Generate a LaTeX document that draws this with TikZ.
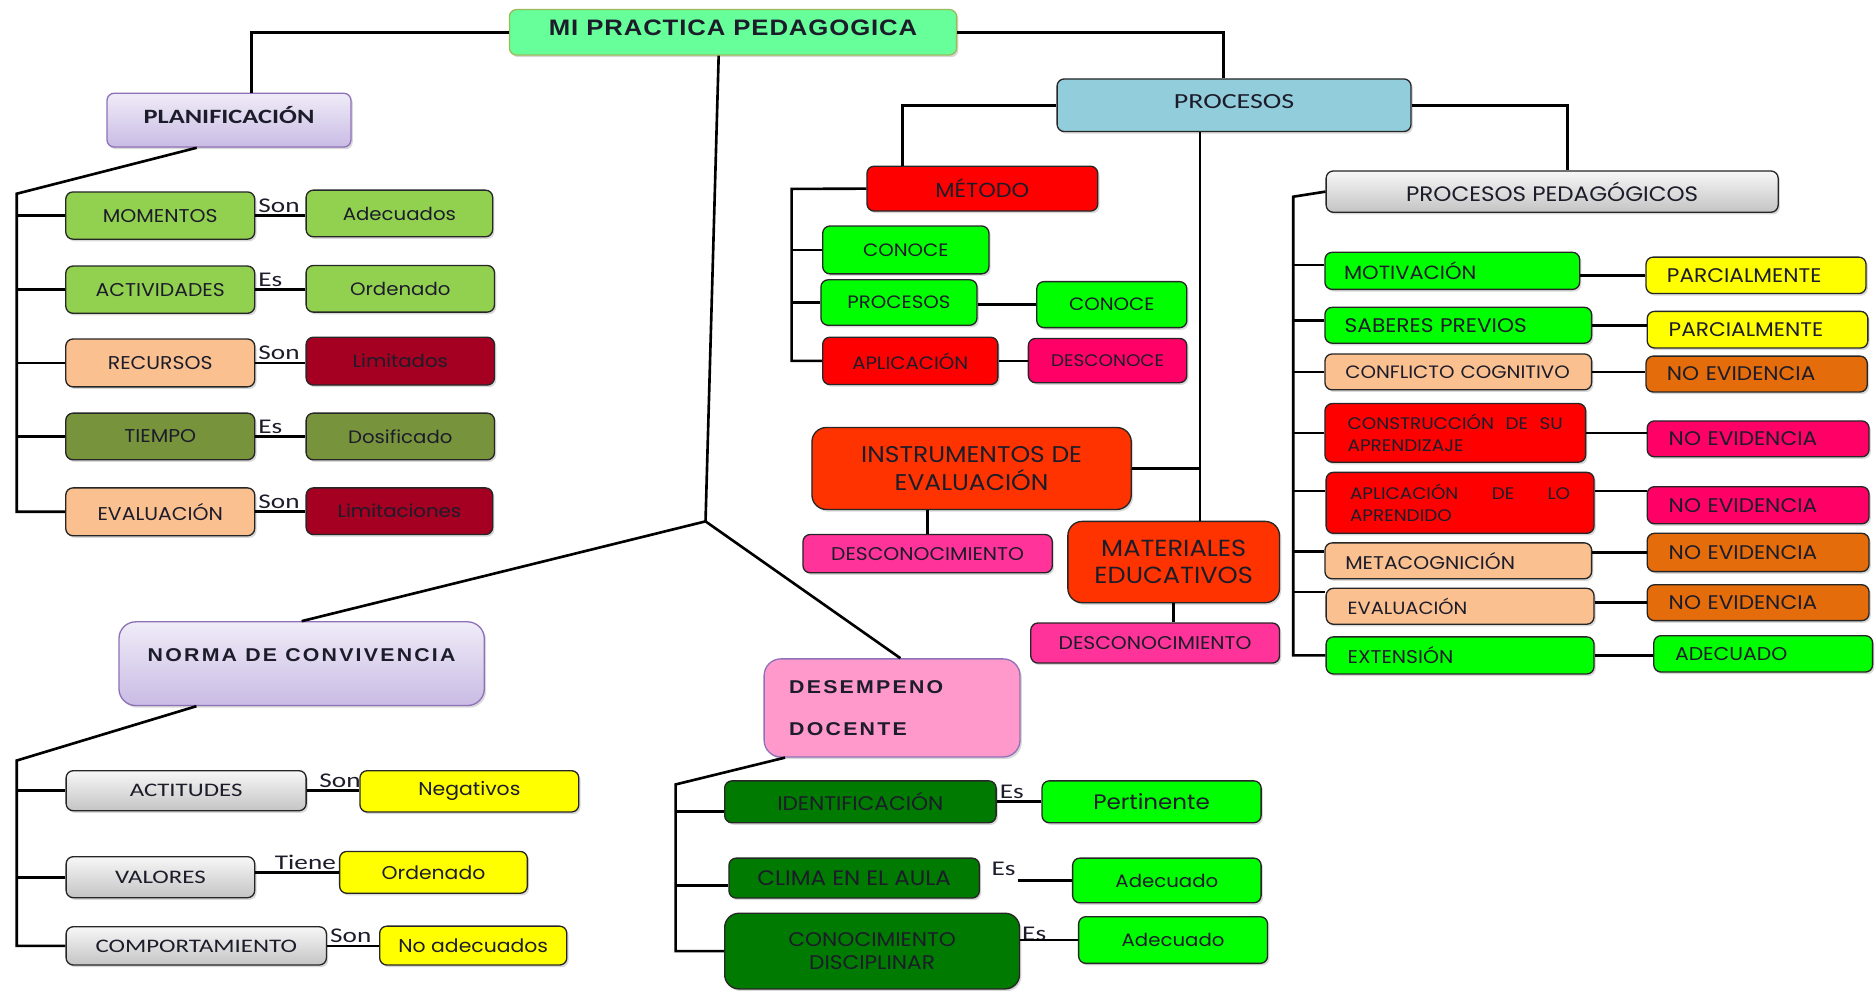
\documentclass[tikz,border=0pt]{standalone}
\usepackage{fontspec}
\setmainfont{Carlito}
\newfontfamily\gotica{Poppins}[FakeStretch=1.1]
\newfontfamily\calibri{Carlito}[FakeStretch=1.3]
\newfontfamily\titularA{Liberation Sans}[FakeStretch=1.15,LetterSpace=4]
\newfontfamily\titularB{Liberation Sans}[FakeStretch=1.15,LetterSpace=12]
\usetikzlibrary{shadows}

\definecolor{raizc}{HTML}{66FF99}
\definecolor{raizb}{HTML}{9BBB59}
\definecolor{lavA}{HTML}{F0ECF8}
\definecolor{lavB}{HTML}{C9BBE4}
\definecolor{lavD}{HTML}{8E72B8}
\definecolor{verdeA}{HTML}{92D050}
\definecolor{durazno}{HTML}{FAC090}
\definecolor{oliva}{HTML}{77933C}
\definecolor{vino}{HTML}{A50021}
\definecolor{celeste}{HTML}{92CDDC}
\definecolor{rojo}{HTML}{FF0000}
\definecolor{lima}{HTML}{00FF00}
\definecolor{fucsia}{HTML}{FF0066}
\definecolor{rosaB}{HTML}{FF3399}
\definecolor{naranjaR}{HTML}{FF3300}
\definecolor{grisA}{HTML}{F7F7F7}
\definecolor{grisB}{HTML}{C4C4C4}
\definecolor{amarillo}{HTML}{FFFF00}
\definecolor{naranja}{HTML}{E46C0A}
\definecolor{rosaD}{HTML}{FF99CC}
\definecolor{verdeO}{HTML}{007A00}
\definecolor{tinta}{HTML}{1C1C2A}

\newcommand\estira{\hskip 4pt plus 1filll\relax}

\begin{document}
\begin{tikzpicture}[x=1pt, y=-1pt,
    caja/.style={draw=black!85, line width=1.1pt, rounded corners=6pt, text=tinta, inner sep=2pt,
        drop shadow={shadow xshift=1.5pt, shadow yshift=-1.8pt, opacity=.3}},
    sz/.style 2 args={minimum width=#1pt, minimum height=#2pt},
    gt/.style 2 args={font=\gotica\fontsize{#1}{#2}\selectfont},
    izq/.style 2 args={align=left, text width=#1pt, inner xsep=#2pt},
    lav/.style={top color=lavA, bottom color=lavB, draw=lavD},
    gris/.style={top color=grisA, bottom color=grisB},
    con/.style={line width=2.2pt, black},
    etq/.style={font=\calibri\fontsize{17.5}{20}\selectfont, inner sep=1.5pt, text=tinta}]
    \useasboundingbox (0,0) rectangle (1568,828);

    % Nodo central
    \node[caja, fill=raizc, draw=raizb, sz={374}{38}, font=\titularA\bfseries\fontsize{18.7}{22}\selectfont, text depth=8pt] (raiz) at (613,27) {MI PRACTICA PEDAGOGICA};

    % Planificacion
    \node[caja, lav, sz={204}{45}, font=\calibri\bfseries\fontsize{17}{20}\selectfont, text depth=8pt] (planif) at (191.5,100.5) {PLANIFICACIÓN};
    \node[caja, fill=verdeA, sz={158}{39.5}, gt={15.5}{18}] (momentos) at (134,180.25) {MOMENTOS};
    \node[caja, fill=verdeA, sz={158}{39.5}, gt={15.5}{18}] (activ) at (134,242.25) {ACTIVIDADES};
    \node[caja, fill=durazno, sz={158}{40}, gt={15.5}{18}] (recursos) at (134,303.5) {RECURSOS};
    \node[caja, fill=oliva, sz={158}{39}, gt={15.5}{18}] (tiempo) at (134,365) {TIEMPO};
    \node[caja, fill=durazno, sz={158}{40}, gt={15.5}{18}] (evalA) at (134,428) {EVALUACIÓN};
    \node[caja, fill=verdeA, sz={156}{39}, gt={15}{18}] (adecA) at (334,178.5) {Adecuados};
    \node[caja, fill=verdeA, sz={157.5}{39}, gt={15}{18}] (ordenA) at (334.75,241.5) {Ordenado};
    \node[caja, fill=vino, sz={157.5}{40}, gt={15}{18}] (limitados) at (334.75,302) {Limitados};
    \node[caja, fill=oliva, sz={157.5}{39}, gt={15}{18}] (dosif) at (334.75,365) {Dosificado};
    \node[caja, fill=vino, sz={156}{39}, gt={15}{18}] (limitac) at (334,427.5) {Limitaciones};

    % Procesos
    \node[caja, fill=celeste, sz={296}{44}, font=\calibri\fontsize{18}{21}\selectfont, text depth=7pt] (proc) at (1032,88) {PROCESOS};
    \node[caja, fill=rojo, sz={193}{37.5}, gt={17}{20}] (metodo) at (821.5,157.75) {MÉTODO};
    \node[caja, fill=lima, sz={139}{40}, gt={15}{18}] (conoceA) at (757.5,209) {CONOCE};
    \node[caja, fill=lima, sz={130.5}{38}, gt={15}{18}] (procB) at (751.75,253) {PROCESOS};
    \node[caja, fill=rojo, sz={146.5}{39.6}, gt={15}{18}] (aplic) at (761.25,301.8) {APLICACIÓN};
    \node[caja, fill=lima, sz={125.5}{38.5}, gt={15}{18}] (conoceB) at (929.75,254.75) {CONOCE};
    \node[caja, fill=fucsia, sz={132.5}{37}, gt={14}{17}] (descon) at (926.25,301.5) {DESCONOCE};
    \node[caja, fill=naranjaR, rounded corners=12pt, sz={267}{68.5}, gt={19}{23}, align=center] (instr) at (812.5,391.75) {INSTRUMENTOS DE\\EVALUACIÓN};
    \node[caja, fill=rosaB, sz={208.5}{32}, gt={15.4}{17}] (descA) at (775.75,463) {DESCONOCIMIENTO};
    \node[caja, fill=naranjaR, rounded corners=12pt, sz={177}{68}, gt={19.5}{23}, align=center] (mat) at (981.5,470) {MATERIALES\\EDUCATIVOS};
    \node[caja, fill=rosaB, sz={208}{33.5}, gt={15.4}{17}] (descB) at (966,537.75) {DESCONOCIMIENTO};

    % Procesos pedagogicos
    \node[caja, gris, sz={378}{34.5}, gt={17.5}{20}] (pp) at (1298,160.25) {PROCESOS PEDAGÓGICOS};
    \node[caja, fill=lima, sz={213}{31}, gt={16}{18}, izq={181}{16}] (motiv) at (1214.5,226.5) {MOTIVACIÓN};
    \node[caja, fill=lima, sz={223}{30}, gt={16.5}{18}, izq={190}{16.5}] (saberes) at (1219.5,272) {SABERES PREVIOS};
    \node[caja, fill=durazno, sz={223}{30}, gt={15}{16}, izq={189}{17}] (conflicto) at (1219.5,311) {CONFLICTO COGNITIVO};
    \node[caja, fill=rojo, sz={218}{49}, gt={14}{19}, izq={180}{19}] (constr) at (1217,362) {CONSTRUCCIÓN\estira DE\estira SU\\APRENDIZAJE};
    \node[caja, fill=rojo, sz={224}{51}, gt={14}{19}, izq={184}{20}] (aplicap) at (1221,420.5) {APLICACIÓN\estira DE\estira LO\\APRENDIDO};
    \node[caja, fill=durazno, sz={223}{30}, gt={15.4}{17}, izq={189}{17}] (meta) at (1219.5,469) {METACOGNICIÓN};
    \node[caja, fill=durazno, sz={224}{30}, gt={14.8}{17}, izq={188}{18}] (evalB) at (1221,507) {EVALUACIÓN};
    \node[caja, fill=lima, sz={224}{31}, gt={15.4}{17}, izq={188}{18}] (exten) at (1221,548.1) {EXTENSIÓN};
    \node[caja, fill=amarillo, sz={184}{30.5}, gt={16.5}{18}, izq={149}{17.5}] (parc1) at (1468.5,230.25) {PARCIALMENTE};
    \node[caja, fill=amarillo, sz={184.5}{30.6}, gt={16.5}{18}, izq={148.5}{18}] (parc2) at (1469.75,275.7) {PARCIALMENTE};
    \node[caja, fill=naranja, sz={185}{30}, gt={16.5}{18}, izq={150}{17.5}] (noevA) at (1469,312.8) {NO EVIDENCIA};
    \node[caja, fill=fucsia, sz={185.5}{30}, gt={16.5}{18}, izq={149.5}{18}] (noevB) at (1470.25,367) {NO EVIDENCIA};
    \node[caja, fill=fucsia, sz={185.5}{31}, gt={16.5}{18}, izq={149.5}{18}] (noevC) at (1470.25,422.5) {NO EVIDENCIA};
    \node[caja, fill=naranja, sz={185.5}{32}, gt={16.5}{18}, izq={149.5}{18}] (noevD) at (1470.25,462) {NO EVIDENCIA};
    \node[caja, fill=naranja, sz={185.5}{30}, gt={16.5}{18}, izq={149.5}{18}] (noevE) at (1470.25,504) {NO EVIDENCIA};
    \node[caja, fill=lima, sz={183}{30.4}, gt={15.5}{18}, izq={147.4}{17.8}] (adecB) at (1474.5,546.8) {ADECUADO};

    % Norma de convivencia
    \node[caja, lav, rounded corners=14pt, sz={305.5}{70}, font=\titularB\bfseries\fontsize{15.5}{18}\selectfont, text depth=14pt] (norma) at (252.25,555) {NORMA DE CONVIVENCIA};
    \node[caja, gris, sz={200.7}{33.5}, font=\calibri\fontsize{16}{19}\selectfont] (actit) at (155.65,661.25) {ACTITUDES};
    \node[caja, gris, sz={157.7}{34.3}, font=\calibri\fontsize{16}{19}\selectfont] (valores) at (134.15,733.55) {VALORES};
    \node[caja, gris, sz={217.7}{32}, font=\calibri\fontsize{16}{19}\selectfont] (comport) at (164.15,791) {COMPORTAMIENTO};
    \node[caja, fill=amarillo, sz={183}{34.5}, gt={15.5}{18}] (negat) at (392.5,661.75) {Negativos};
    \node[caja, fill=amarillo, sz={157}{35}, gt={15.5}{18}] (ordenB) at (362.5,729.5) {Ordenado};
    \node[caja, fill=amarillo, sz={156.5}{32.5}, gt={15.5}{18}] (noadec) at (395.75,790.75) {No adecuados};

    % Desempeno docente
    \node[caja, fill=rosaD, draw=lavD, rounded corners=14pt, sz={214}{82}, font=\titularB\bfseries\fontsize{15.5}{35}\selectfont, izq={172}{21}] (desemp) at (746,592) {DESEMPENO\\DOCENTE};
    \node[caja, fill=verdeO, sz={227}{35}, gt={16.5}{18}] (ident) at (719.5,670.5) {IDENTIFICACIÓN};
    \node[caja, fill=verdeO, sz={209.4}{33.4}, gt={17.5}{18}] (clima) at (714.3,734.3) {CLIMA EN EL AULA};
    \node[caja, fill=verdeO, rounded corners=12pt, sz={246.6}{63.3}, gt={16.5}{20}, align=center] (conoc) at (729.3,795.35) {CONOCIMIENTO\\DISCIPLINAR};
    \node[caja, fill=lima, sz={183.2}{35}, gt={17.5}{18}] (pertin) at (963,670.5) {Pertinente};
    \node[caja, fill=lima, sz={157.6}{37.4}, gt={15}{18}] (adec1) at (975.8,736.3) {Adecuado};
    \node[caja, fill=lima, sz={158}{39}, gt={15}{18}] (adec2) at (981,786.1) {Adecuado};

    % Lineas principales
    \coordinate (nudo) at (590,436);
    \draw[con] (raiz.west) -| ([xshift=19pt]planif.north);
    \draw[con] (raiz.east) -| ([xshift=-9pt]proc.north);
    \draw[con] ([xshift=-12pt]raiz.south) -- (nudo);
    \draw[con] (nudo) -- (norma.north);
    \draw[con] (nudo) -- ([xshift=7pt]desemp.north);

    % Lineas planificacion
    \coordinate (ejeA) at (14,162);
    \draw[con] ([xshift=-27pt]planif.south) -- (ejeA) |- (evalA.west);
    \draw[con] (ejeA |- momentos.west) -- (momentos.west);
    \draw[con] (ejeA |- activ.west) -- (activ.west);
    \draw[con] (ejeA |- recursos.west) -- (recursos.west);
    \draw[con] (ejeA |- tiempo.west) -- (tiempo.west);
    \draw[con] (momentos.east) -- (momentos.east -| adecA.west) node[etq, pos=0, anchor=south west] (sonA) {Son};
    \draw[con] (activ.east) -- (activ.east -| ordenA.west) node[etq, pos=0, anchor=south west] (esA) {Es};
    \draw[con] (recursos.east) -- (recursos.east -| limitados.west) node[etq, pos=0, anchor=south west] (sonB) {Son};
    \draw[con] (tiempo.east) -- (tiempo.east -| dosif.west) node[etq, pos=0, anchor=south west] (esB) {Es};
    \draw[con] (evalA.east) -- (evalA.east -| limitac.west) node[etq, pos=0, anchor=south west] (sonC) {Son};

    % Lineas procesos
    \coordinate (bajada) at ([xshift=22pt]mat.north);
    \draw[con] (proc.west) -| ([xshift=-67pt]metodo.north);
    \draw[con] (proc.east) -| ([xshift=12.6pt]pp.north);
    \draw[con] (proc.south -| bajada) -- (bajada);
    \draw[con] (instr.east) -- (instr.east -| bajada);
    \draw[con] (instr.south -| descA.north) -- (descA.north);
    \draw[con] (mat.south) -- (mat.south |- descB.north);

    % Lineas metodo
    \coordinate (ejeC) at (662,158);
    \draw[con] (metodo.west) -- (ejeC) |- (aplic.west);
    \draw[con] (ejeC |- conoceA.west) -- (conoceA.west);
    \draw[con] (ejeC |- procB.west) -- (procB.west);
    \draw[con] (procB.east |- conoceB.west) -- (conoceB.west);
    \draw[con] (aplic.east) -- (aplic.east -| descon.west);

    % Lineas procesos pedagogicos
    \coordinate (ejeD) at (1081.5,164.5);
    \coordinate (rMo) at ([yshift=5pt]motiv.west);
    \coordinate (rSa) at ([yshift=4pt]saberes.west);
    \coordinate (rAp) at ([yshift=10pt]aplicap.west);
    \coordinate (rMe) at ([yshift=8pt]meta.west);
    \coordinate (rEv) at ([yshift=12pt]evalB.west);
    \coordinate (rAd) at ([yshift=10pt]aplicap.east);
    \draw[con] (pp.west) -- (ejeD) |- (exten.west);
    \draw[con] (ejeD |- rMo) -- (rMo);
    \draw[con] (ejeD |- rSa) -- (rSa);
    \draw[con] (ejeD |- conflicto.west) -- (conflicto.west);
    \draw[con] (ejeD |- constr.west) -- (constr.west);
    \draw[con] (ejeD |- rAp) -- (rAp);
    \draw[con] (ejeD |- rMe) -- (rMe);
    \draw[con] (ejeD |- rEv) -- (rEv);
    \draw[con] (motiv.east |- parc1.west) -- (parc1.west);
    \draw[con] (saberes.east) -- (saberes.east -| parc2.west);
    \draw[con] (conflicto.east) -- (conflicto.east -| noevA.west);
    \draw[con] (constr.east) -- (constr.east -| noevB.west);
    \draw[con] (rAd) -- (rAd -| noevC.west);
    \draw[con] (meta.east |- noevD.west) -- (noevD.west);
    \draw[con] (evalB.east |- noevE.west) -- (noevE.west);
    \draw[con] (exten.east) -- (exten.east -| adecB.west);

    % Lineas norma de convivencia
    \coordinate (ejeB) at (14,636);
    \draw[con] ([xshift=-88pt]norma.south) -- (ejeB) |- (comport.west);
    \draw[con] (ejeB |- actit.west) -- (actit.west);
    \draw[con] (ejeB |- valores.west) -- (valores.west);
    \draw[con] (actit.east) -- (actit.east -| negat.west) node[etq, pos=0, anchor=south west, xshift=8pt] (sonD) {Son};
    \draw[con] (valores.east |- ordenB.west) -- (ordenB.west) node[etq, pos=1, anchor=south east] (tiene) {Tiene};
    \draw[con] (comport.east) -- (comport.east -| noadec.west) node[etq, pos=0, anchor=south west] (sonE) {Son};

    % Lineas desempeno
    \coordinate (ejeE) at (565,656);
    \coordinate (rId) at ([yshift=-8pt]ident.west);
    \coordinate (rCl) at ([yshift=-6pt]clima.west);
    \draw[con] ([xshift=-89.5pt]desemp.south) -- (ejeE) |- (conoc.west);
    \draw[con] (ejeE |- rId) -- (rId);
    \draw[con] (ejeE |- rCl) -- (rCl);
    \draw[con] (ident.east) -- (ident.east -| pertin.west) node[etq, pos=0, anchor=south west] (esC) {Es};
    \node[etq, anchor=south west] (esD) at ([xshift=8pt]clima.east) {Es};
    \draw[con] (esD.east |- adec1.west) -- (adec1.west);
    \node[etq, anchor=base west] (esE) at (conoc.east |- adec2.west) {Es};
    \draw[con] (conoc.east |- adec2.west) -- (adec2.west);
\end{tikzpicture}
\end{document}
